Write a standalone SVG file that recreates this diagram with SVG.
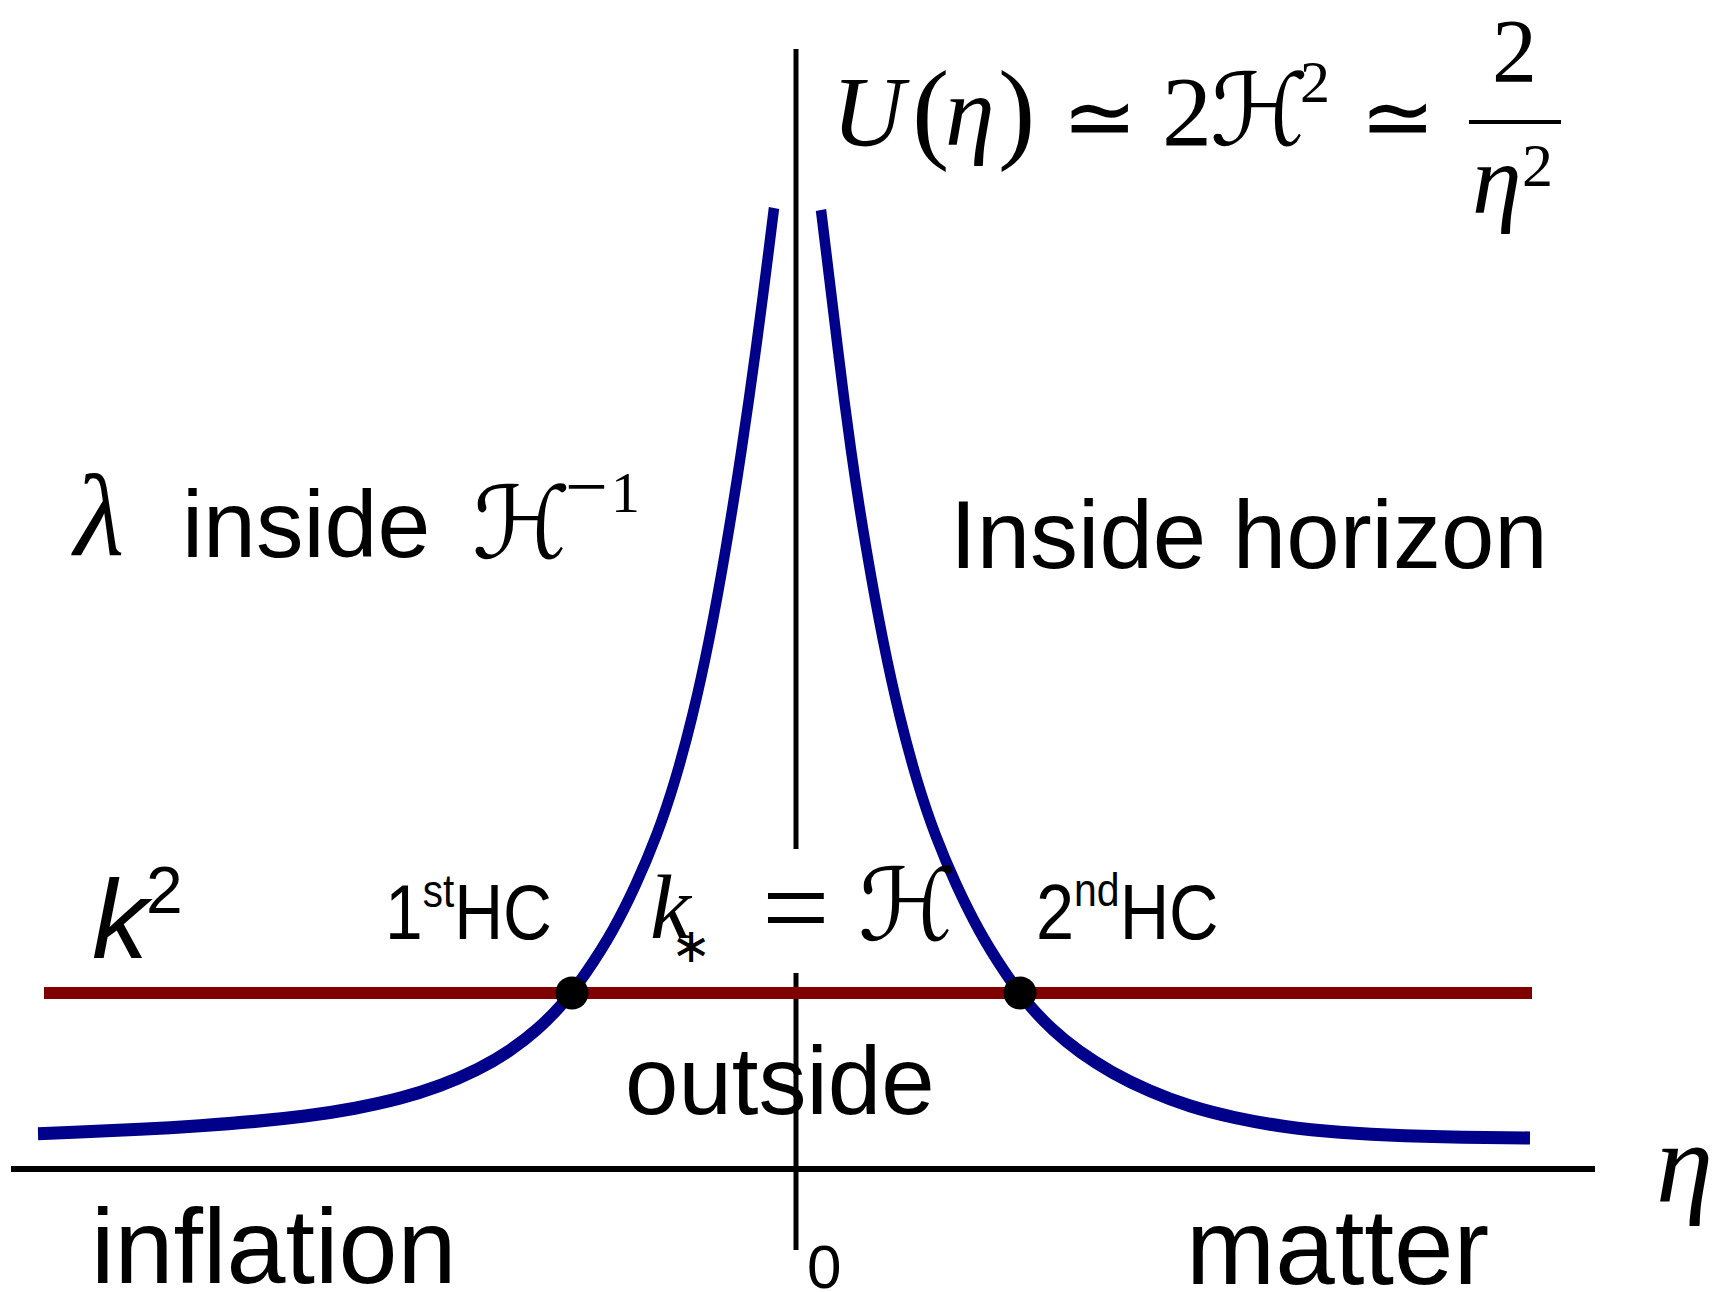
<svg xmlns="http://www.w3.org/2000/svg" width="1721" height="1292" viewBox="0 0 1721 1292">
<style>
.sans{font-family:"Liberation Sans",Arial,sans-serif;fill:#000}
.serif{font-family:"Liberation Serif","Times New Roman",serif;fill:#000}
.it{font-style:italic}
.sym{font-family:"DejaVu Sans","DejaVu Serif",sans-serif;fill:#000}
.scr{font-family:"DejaVu Serif","DejaVu Sans",serif;fill:#000}
.ax{stroke:#000;fill:none}
.pot{fill:none;stroke:#00008b;stroke-width:10.5}
</style>
<rect width="1721" height="1292" fill="#fff"/>
<g id="axes">
<line class="ax" x1="796" y1="49" x2="796" y2="849" stroke-width="5"/>
<line class="ax" x1="796" y1="973" x2="796" y2="1250" stroke-width="5"/>
<line class="ax" x1="11" y1="1169" x2="1595" y2="1169" stroke-width="6"/>
</g>
<g id="k2-line">
<line x1="44" y1="993" x2="1532" y2="993" stroke="#800000" stroke-width="12"/>
</g>
<g id="potential" transform="matrix(1,0,0,1.25,0,0)">
<path class="pot" d="M774,166.4 L768.25,203.2 Q762.5,240 755.75,280 Q749,320 741.5,360 Q734,400 725.5,440 Q717,480 709,512 Q701,544 692.5,572 Q684,600 675,624 Q666,648 656.5,668 Q647,688 635.5,708 Q624,728 612.8,744 Q601.6,760 586.8,777.2 Q572,794.4 561,804.32 Q550,814.24 537.5,823.12 Q525,832 510,840.16 Q495,848.32 477.5,855.4 Q460,862.48 440,868.4 Q420,874.32 400,878.56 Q380,882.8 355,886.52 Q330,890.24 305,892.76 Q280,895.28 255,897.08 Q230,898.88 200,900.56 Q170,902.24 140,903.44 Q110,904.64 74,905.8 L38,906.96"/>
<path class="pot" d="M821,168 L826.5,204 Q832,240 838,280 Q844,320 851,360 Q858,400 866.5,440 Q875,480 883,512 Q891,544 899.5,572 Q908,600 917,624 Q926,648 935.5,668 Q945,688 956.5,708 Q968,728 979,744 Q990,760 1004.5,777.2 Q1019,794.4 1029.5,804.24 Q1040,814.08 1052.5,823.44 Q1065,832.8 1080,841.44 Q1095,850.08 1112.5,857.92 Q1130,865.76 1150,872.72 Q1170,879.68 1190,884.72 Q1210,889.76 1235,894.08 Q1260,898.4 1285,901.2 Q1310,904 1340,905.8 Q1370,907.6 1405,908.6 Q1440,909.6 1485,910 L1530,910.4"/>
</g>
<g id="crossings">
<circle cx="572" cy="993" r="16.5" fill="#000"/>
<circle cx="1020" cy="993" r="16.5" fill="#000"/>
</g>
<g id="formula">
<text class="serif it" x="832" y="145" font-size="100">U</text>
<text class="serif" x="912" y="148" font-size="112">(</text>
<text class="serif it" x="945" y="145" font-size="100">η</text>
<text class="serif" x="998" y="148" font-size="112">)</text>
<text class="sym" x="1062" y="148" font-size="90">≃</text>
<text class="serif" x="1162" y="145" font-size="100">2</text>
<text class="scr" x="1210" y="145" font-size="100">ℋ</text>
<text class="serif" x="1300" y="102" font-size="60">2</text>
<text class="sym" x="1360" y="148" font-size="90">≃</text>
<rect x="1469" y="120" width="92" height="4" fill="#000"/>
<text class="serif" x="1492" y="82" font-size="90">2</text>
<text class="serif it" x="1472" y="213" font-size="100">η</text>
<text class="serif" x="1522" y="186" font-size="62">2</text>
</g>
<g id="label-inside-H">
<text class="serif it" x="74" y="555" font-size="116">λ</text>
<text class="sans" x="182" y="557" font-size="95">inside</text>
<text class="scr" x="472" y="558" font-size="100">ℋ</text>
<text class="serif" x="565" y="512" font-size="76">−</text>
<text class="serif" x="611" y="512" font-size="58">1</text>
</g>
<g id="label-inside-horizon">
<text class="sans" x="950" y="568" font-size="96">Inside horizon</text>
</g>
<g id="label-k2">
<text class="sans it" x="92" y="958" font-size="112">k</text>
<text class="sans" x="146" y="913" font-size="66">2</text>
</g>
<g id="label-1stHC">
<text class="sans" font-size="77" transform="translate(385,939) scale(0.88,1)">1<tspan font-size="46" dy="-32">st</tspan><tspan dy="32">HC</tspan></text>
</g>
<g id="label-kstar">
<text class="serif it" x="650" y="938" font-size="92">k</text>
<text class="sym" x="671" y="962" font-size="48">∗</text>
<text class="serif" x="762" y="948" font-size="120">=</text>
<text class="scr" x="858" y="940" font-size="100">ℋ</text>
</g>
<g id="label-2ndHC">
<text class="sans" font-size="77" transform="translate(1036,939) scale(0.89,1)">2<tspan font-size="46" dy="-33">nd</tspan><tspan dy="33">HC</tspan></text>
</g>
<g id="label-outside">
<text class="sans" x="625" y="1114" font-size="96">outside</text>
</g>
<g id="label-bottom">
<text class="sans" x="91" y="1283" font-size="106">inflation</text>
<text class="sans" x="807" y="1288" font-size="62">0</text>
<text class="sans" x="1186" y="1284" font-size="107">matter</text>
<text class="serif it" x="1656" y="1202" font-size="115">η</text>
</g>
</svg>
